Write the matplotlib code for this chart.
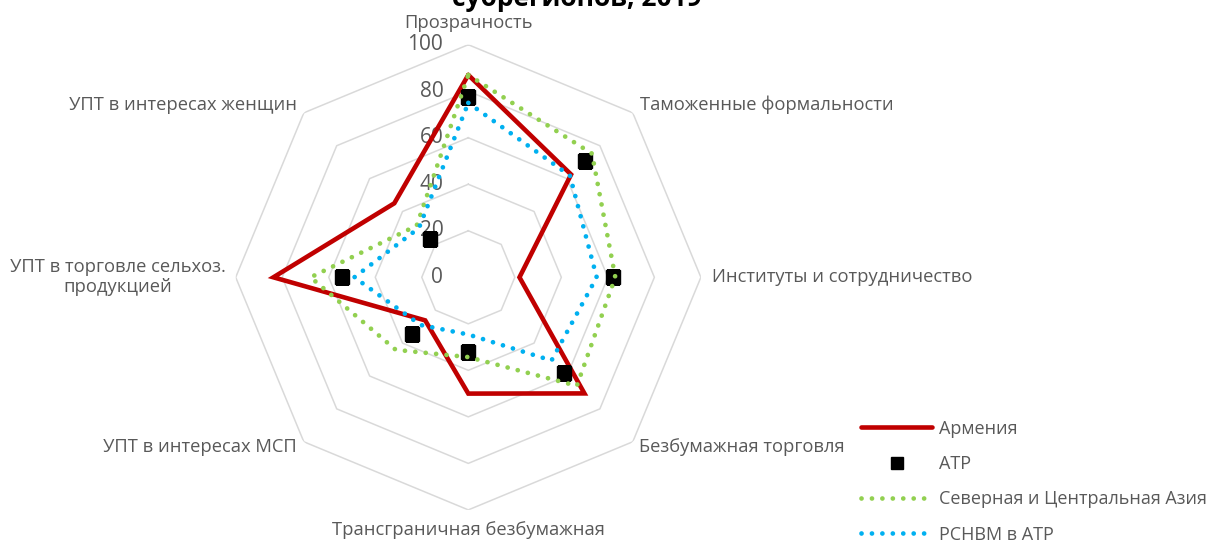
import numpy as np
import matplotlib
matplotlib.use("Agg")
import matplotlib.pyplot as plt

# ---------------- data ----------------
categories = [
    "Прозрачность",
    "Таможенные формальности",
    "Институты и сотрудничество",
    "Безбумажная торговля",
    "Трансграничная безбумажная\nторговля",
    "УПТ в интересах МСП",
    "УПТ в торговле сельхоз.\nпродукцией",
    "УПТ в интересах женщин",
]
armenia = [87, 62.5, 22, 70.6, 50, 26.2, 83.8, 45]
atr = [77.6, 70.9, 62.1, 58.1, 32, 34.2, 54.4, 23.3]
nca = [87, 75.2, 63.2, 66, 34.3, 44.1, 67.8, 31.4]
rsnvm = [75, 61.8, 55.2, 50.6, 24.6, 29, 49, 30]
series_names = ["Армения", "АТР", "Северная и Центральная Азия", "РСНВМ в АТР"]
r_ticks = [0, 20, 40, 60, 80, 100]
title_text = "субрегионов, 2019"

# ---------------- style ----------------
W, H = 1215, 542
DPI = 100
plt.rcParams["font.family"] = ["Open Sans", "DejaVu Sans"]
TXT = "#595959"
GRID = "#D9D9D9"
LFS = 13.2

fig = plt.figure(figsize=(W / DPI, H / DPI), dpi=DPI)
cx, cy, R = 468.3, 277.3, 232.6
ax = fig.add_axes([(cx - R) / W, (H - cy - R) / H, 2 * R / W, 2 * R / H],
                  projection="polar")
ax.set_theta_zero_location("N")
ax.set_theta_direction(-1)
ax.set_ylim(0, 100)
ax.grid(False)
ax.set_xticks([])
ax.set_yticks([])
ax.spines["polar"].set_visible(False)
ax.patch.set_alpha(0)

n = len(categories)
theta = np.linspace(0, 2 * np.pi, n, endpoint=False)
theta_c = np.append(theta, theta[0])


def closed(v):
    return np.append(np.asarray(v, float), v[0])


# octagonal grid
for lvl in r_ticks[1:]:
    ax.plot(theta_c, [lvl] * (n + 1), color=GRID, lw=1.1, zorder=1)

# value labels
for lvl in r_ticks:
    ax.annotate(str(lvl), xy=(0, lvl), xytext=(-25, 0), textcoords="offset pixels",
                ha="right", va="center", fontsize=15, color=TXT, zorder=2)

# category labels
label_style = [
    dict(off=(0, 22), ha="center", va="center"),
    dict(off=(7, 8), ha="left", va="center"),
    dict(off=(11, 0), ha="left", va="center"),
    dict(off=(6, -5), ha="left", va="center"),
    dict(off=(0, -11), ha="center", va="top"),
    dict(off=(-7, -5), ha="right", va="center"),
    dict(off=(-10, 0), ha="right", va="center"),
    dict(off=(-7, 8), ha="right", va="center"),
]
for t, lab, st in zip(theta, categories, label_style):
    ax.annotate(lab, xy=(t, 100), xytext=st["off"], textcoords="offset pixels",
                ha=st["ha"], va=st["va"], multialignment="center",
                fontsize=LFS, color=TXT, annotation_clip=False,
                linespacing=1.15)

# series
l1, = ax.plot(theta_c, closed(armenia), color="#C00000", lw=3.3,
              solid_joinstyle="miter", solid_capstyle="round", zorder=3,
              label=series_names[0])
l2, = ax.plot(theta, atr, ls="none", marker="s", ms=10, color="black",
              zorder=4, label=series_names[1])
l3, = ax.plot(theta_c, closed(nca), color="#92D050", lw=3.4,
              ls=(0, (0.01, 2.2)), dash_capstyle="round", zorder=5,
              label=series_names[2])
l4, = ax.plot(theta_c, closed(rsnvm), color="#00B0F0", lw=3.4,
              ls=(0, (0.01, 2.2)), dash_capstyle="round", zorder=6,
              label=series_names[3])

leg = fig.legend(handles=[l1, l2, l3, l4], loc="center left",
                 bbox_to_anchor=(861 / W, 1 - 481.5 / H), frameon=False,
                 fontsize=13, handlelength=3.95, handletextpad=0.38,
                 labelspacing=0.96, borderpad=0, borderaxespad=0, numpoints=1)
for t in leg.get_texts():
    t.set_color(TXT)
leg.legend_handles[1].set_markersize(8)

fig.text(577 / W, 1 - 6 / H, title_text, ha="center", va="baseline",
         fontsize=19, fontweight="bold", color="black")

fig.savefig("out.png", dpi=DPI)
